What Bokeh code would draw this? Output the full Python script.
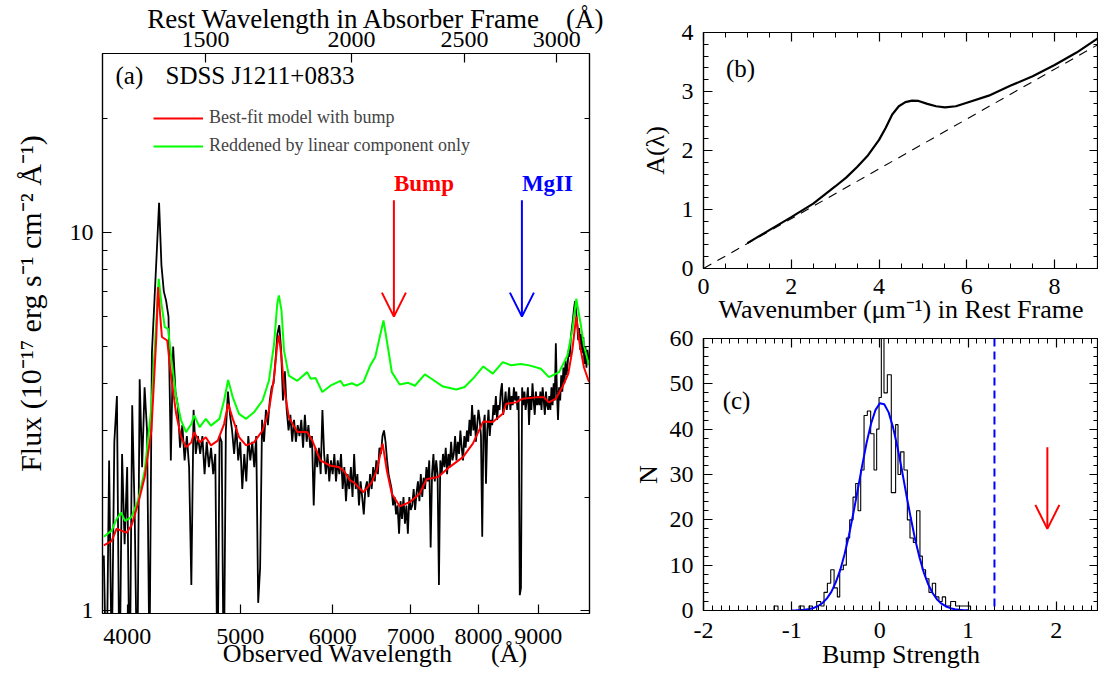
import math
from bokeh.plotting import figure
from bokeh.layouts import row, column
from bokeh.models import (Range1d, LogAxis, LinearAxis, FixedTicker, SingleIntervalTicker,
                          PrintfTickFormatter, Label, Arrow, OpenHead, Legend, LegendItem,
                          LogScale, Span)
from bokeh.embed import file_html
from bokeh.resources import INLINE

SERIF = "Liberation Serif"
NB = "\u00a0"

# ---------------- panel (a) data ----------------
z_abs = 2.113
bump_rest = 2175.0
mgii_rest = 2800.0
obs_ticks = [4000, 5000, 6000, 7000, 8000, 9000]
rest_ticks = [1500, 2000, 2500, 3000]
flux_ticks = [1, 10]
flux_minor = [2, 3, 4, 5, 6, 7, 8, 9, 20]

wave_obs = list(range(3820, 9961, 20))
flux_obs = [
    1.4, 0.6, 2.5, 0.7, 2.8, 3.7, 0.6, 2.6, 1.5, 2.4,
    0.6, 3.5, 1.8, 0.6, 4.1, 2.4, 3.9, 3.0, 0.7, 4.8,
    6.5, 8.8, 12.0, 8.2, 7.0, 6.6, 6.0, 2.5, 5.0, 3.8,
    3.5, 2.7, 3.1, 2.5, 2.9, 2.4, 1.17, 3.4, 2.6, 2.9,
    2.6, 2.9, 2.3, 2.8, 2.4, 2.7, 2.3, 2.6, 0.6, 2.9,
    2.8, 0.6, 3.0, 3.8, 3.3, 3.0, 2.6, 3.1, 2.5, 2.8,
    2.1, 2.6, 2.2, 2.9, 2.5, 2.8, 2.4, 2.9, 1.05, 1.3,
    3.2, 2.8, 3.4, 3.1, 3.6, 3.9, 4.0, 4.6, 5.4, 5.7,
    4.9, 3.6, 4.3, 3.4, 3.0, 3.3, 2.8, 3.2, 2.8, 3.1,
    2.9, 3.2, 2.7, 3.3, 2.8, 3.1, 2.7, 2.9, 1.9, 2.7,
    2.4, 2.7, 2.3, 3.4, 2.6, 2.3, 2.6, 2.2, 2.5, 2.3,
    2.6, 2.2, 2.5, 2.3, 2.6, 2.1, 2.4, 1.95, 2.3, 2.1,
    2.4, 2.0, 2.6, 2.1, 2.3, 1.9, 2.2, 2.0, 1.8, 2.1,
    2.2, 2.0, 2.3, 2.1, 2.4, 2.2, 2.5, 2.3, 2.7, 2.6,
    2.9, 3.0, 2.8, 2.5, 2.3, 2.2, 2.1, 1.9, 2.0, 1.8,
    1.9, 1.6, 1.95, 1.75, 2.0, 1.7, 1.9, 1.6, 2.0, 1.85,
    1.9, 2.1, 1.85, 2.05, 2.2, 1.95, 2.3, 2.0, 2.25, 2.1,
    2.4, 2.2, 2.5, 1.47, 2.3, 2.6, 2.2, 2.5, 2.3, 1.17,
    2.5, 2.3, 2.6, 2.4, 2.7, 2.3, 2.6, 2.4, 2.8, 2.5,
    2.6, 2.9, 2.5, 2.8, 2.6, 3.0, 2.7, 2.5, 2.9, 2.7,
    3.0, 2.8, 3.2, 2.9, 3.5, 3.0, 3.3, 2.8, 3.1, 3.4,
    3.2, 2.9, 1.57, 3.1, 3.3, 2.17, 3.0, 3.4, 2.9, 3.2,
    3.1, 3.5, 3.3, 3.7, 3.2, 3.5, 3.4, 3.8, 4.0, 3.3,
    3.5, 3.8, 3.4, 3.6, 3.9, 3.4, 3.7, 3.5, 3.9, 3.6,
    3.8, 3.4, 3.7, 1.1, 1.15, 3.9, 3.5, 3.8, 3.4, 3.6,
    3.9, 3.1, 3.7, 3.4, 4.0, 3.6, 3.3, 3.8, 3.5, 3.7,
    3.5, 3.8, 3.4, 3.9, 3.6, 3.3, 3.8, 3.5, 3.4, 3.7,
    3.4, 3.9, 3.5, 4.0, 3.6, 5.1, 3.8, 3.2, 3.9, 3.6,
    4.2, 3.8, 4.4, 4.0, 4.6, 4.2, 4.5, 4.9, 4.7, 5.3,
    5.6, 5.9, 6.3, 6.6, 6.2, 5.8, 5.2, 5.6, 4.9, 5.4,
    4.8, 5.3, 4.5, 5.0, 4.4, 4.9, 4.6, 4.7,
]

model_wave = [3820, 3879, 3918, 3952, 3995, 4034, 4087, 4141, 4196, 4237,
              4251, 4266, 4284, 4329, 4363, 4406, 4449, 4493, 4540, 4566,
              4615, 4672, 4719, 4783, 4843, 4882, 4927, 4988, 5058, 5137,
              5225, 5291, 5345, 5379, 5396, 5424, 5451, 5503, 5596, 5706,
              5764, 5856, 5974, 6073, 6132, 6211, 6254, 6376, 6483, 6545,
              6622, 6677, 6743, 6849, 6989, 7124, 7221, 7387, 7555, 7759,
              7912, 8077, 8230, 8393, 8449, 8616, 8727, 8962, 9108, 9193,
              9320, 9441, 9552, 9627, 9703, 9768, 9851, 9950]
model_flux = [1.49, 1.53, 1.65, 1.63, 1.61, 1.68, 1.92, 2.26, 3.0, 5.3,
              7.18, 6.23, 5.3, 5.19, 4.15, 3.32, 2.88, 2.71, 2.79, 2.97,
              2.79, 2.88, 2.74, 2.82, 3.12, 3.53, 3.22, 2.88, 2.74, 2.79,
              3.0, 3.39, 4.15, 5.08, 5.35, 4.69, 3.91, 3.25, 2.97, 2.97,
              2.82, 2.50, 2.42, 2.40, 2.35, 2.21, 2.19, 2.06, 2.19, 2.35,
              2.77, 2.35, 2.04, 1.89, 1.94, 2.04, 2.23, 2.26, 2.40, 2.55,
              2.77, 3.17, 3.16, 3.32, 3.53, 3.56, 3.64, 3.67, 3.67, 3.56,
              3.64, 3.91, 4.24, 4.88, 6.01, 5.09, 4.41, 4.03]

linear_wave = [3820, 3879, 3918, 3952, 3983, 4034, 4087, 4141, 4196, 4237,
               4257, 4280, 4308, 4337, 4363, 4406, 4449, 4493, 4540, 4566,
               4615, 4672, 4719, 4799, 4843, 4882, 4927, 4988, 5058, 5137,
               5225, 5291, 5345, 5379, 5396, 5424, 5451, 5503, 5596, 5706,
               5745, 5801, 5879, 5974, 6093, 6132, 6234, 6295, 6376, 6462,
               6526, 6633, 6677, 6743, 6849, 6965, 7057, 7197, 7292, 7460,
               7658, 7785, 7912, 8077, 8230, 8393, 8532, 8701, 8844, 9049,
               9193, 9380, 9534, 9627, 9703, 9788, 9851, 9950]
linear_flux = [1.57, 1.63, 1.75, 1.82, 1.73, 1.77, 1.96, 2.35, 3.46, 5.86,
               7.55, 6.49, 5.63, 5.57, 4.69, 3.67, 3.19, 2.97, 3.12, 3.29,
               3.06, 3.22, 3.09, 3.22, 3.60, 4.08, 3.67, 3.32, 3.22, 3.35,
               3.60, 4.06, 5.08, 6.49, 6.83, 6.23, 4.88, 4.19, 4.06, 4.28,
               4.11, 4.13, 3.79, 3.94, 4.06, 3.94, 4.00, 3.94, 4.03, 4.46,
               4.69, 5.86, 5.19, 4.28, 3.97, 4.01, 3.94, 4.22, 4.11, 3.92,
               3.85, 3.91, 4.11, 4.43, 4.24, 4.55, 4.46, 4.50, 4.46, 4.37,
               4.15, 4.28, 4.73, 5.51, 6.69, 5.74, 5.03, 4.46]

# ---------------- panel (b) data ----------------
wavenumber = [1.0, 1.5, 2.0, 2.5, 3.0, 3.25, 3.5, 3.75, 4.0, 4.15, 4.3, 4.45, 4.6,
              4.75, 4.9, 5.1, 5.3, 5.5, 5.75, 6.0, 6.5, 7.0, 7.5, 8.0, 8.5, 9.0]
a_lambda = [0.43, 0.65, 0.87, 1.10, 1.39, 1.54, 1.72, 1.92, 2.18, 2.38, 2.61, 2.75, 2.82,
            2.845, 2.84, 2.79, 2.75, 2.73, 2.75, 2.81, 2.93, 3.10, 3.26, 3.45, 3.66, 3.91]
lin_x = [0.0, 9.0]
lin_a = [0.0, 3.80]

# ---------------- panel (c) data ----------------
bin_edges = [-1.20, -1.155, -0.916, -0.859, -0.803, -0.765, -0.716, -0.670, -0.633, -0.595,
             -0.557, -0.519, -0.482, -0.455, -0.414, -0.380, -0.342, -0.304, -0.274, -0.247,
             -0.217, -0.179, -0.142, -0.104, -0.066, -0.036, -0.009, 0.017, 0.047, 0.085,
             0.130, 0.179, 0.206, 0.236, 0.274, 0.312, 0.342, 0.380, 0.417, 0.455,
             0.482, 0.519, 0.557, 0.595, 0.633, 0.670, 0.708, 0.746, 0.803, 0.859,
             0.916, 0.972, 1.029]
bin_counts = [1, 0, 1, 0, 1, 0, 2, 1, 4, 6,
              9, 5, 3, 9, 10, 16, 20, 25, 28, 22,
              31, 43, 44, 39, 31, 40, 47, 62, 48, 52,
              26, 41, 30, 35, 31, 20, 16, 15, 22, 12,
              9, 7, 4, 6, 3, 2, 3, 1, 2, 1,
              1, 1]
gauss_x = [-1.00, -0.95, -0.90, -0.85, -0.80, -0.75, -0.70, -0.65, -0.60, -0.55,
           -0.50, -0.45, -0.40, -0.35, -0.30, -0.25, -0.20, -0.15, -0.10, -0.05,
           0.00, 0.05, 0.10, 0.15, 0.20, 0.25, 0.30, 0.35, 0.40, 0.45,
           0.50, 0.55, 0.60, 0.65, 0.70, 0.75, 0.80, 0.85, 0.90, 0.95, 1.00]
gauss_n = [0.02, 0.04, 0.09, 0.17, 0.32, 0.57, 0.99, 1.65, 2.67, 4.1,
           6.2, 8.9, 12.4, 16.6, 21.5, 26.7, 32.0, 37.0, 41.2, 44.2,
           45.7, 45.5, 43.7, 40.4, 36.0, 31.0, 25.6, 20.5, 15.7, 11.7,
           8.3, 5.7, 3.8, 2.4, 1.5, 0.89, 0.51, 0.28, 0.15, 0.08, 0.04]
threshold_strength = 1.3
object_strength = 1.9
object_arrow_n = [36.0, 18.0]


def style_axis(ax, major_in=9, minor_in=5, size="24px", standoff=10, hide=False,
               title=None, title_size="26px", title_standoff=0):
    ax.major_tick_in = major_in
    ax.major_tick_out = 0
    ax.minor_tick_in = minor_in
    ax.minor_tick_out = 0
    ax.axis_line_color = "black"
    ax.axis_line_width = 1.2
    ax.major_tick_line_color = "black"
    ax.major_tick_line_width = 1.2
    ax.minor_tick_line_color = "black"
    ax.minor_tick_line_width = 1.0
    ax.major_label_text_font = SERIF
    ax.major_label_text_color = "black"
    if hide:
        ax.major_label_text_font_size = "1px"
        ax.major_label_text_alpha = 0
        ax.major_label_standoff = 0
    else:
        ax.major_label_text_font_size = size
        ax.major_label_standoff = standoff
    if title:
        ax.axis_label = title
        ax.axis_label_text_font = SERIF
        ax.axis_label_text_font_size = title_size
        ax.axis_label_text_font_style = "normal"
        ax.axis_label_text_color = "black"
        ax.axis_label_standoff = title_standoff
    else:
        ax.axis_label = None


def txt(p, x, y, s, size="26px", align="center", color="black", style="normal",
        xu="screen", yu="screen"):
    p.add_layout(Label(x=x, y=y, x_units=xu, y_units=yu, text=s, text_font=SERIF,
                       text_font_size=size, text_color=color, text_align=align,
                       text_baseline="middle", text_font_style=style))


def base(p):
    p.xgrid.visible = False
    p.ygrid.visible = False
    p.outline_line_color = "black"
    p.outline_line_width = 1.2
    p.background_fill_color = "white"
    p.border_fill_color = "white"


INT_FMT = PrintfTickFormatter(format="%d")

# ================= panel (a) =================
pa = figure(width=610, height=673, x_axis_type="log", y_axis_type="log",
            x_range=Range1d(3810, 9960), y_range=Range1d(0.984, 29.8),
            output_backend="svg", toolbar_location=None,
            min_border_left=102, min_border_right=21, min_border_top=53, min_border_bottom=60)
base(pa)
pa.extra_x_ranges = {"rest": Range1d(3810 / (1 + z_abs), 9960 / (1 + z_abs))}
pa.extra_x_scales = {"rest": LogScale()}

bx = pa.xaxis[0]
bx.ticker = FixedTicker(ticks=obs_ticks)
bx.formatter = INT_FMT
style_axis(bx, standoff=15, title=NB * 9 + "Observed Wavelength" + NB * 6 + "(Å)",
           title_standoff=-8)
ly = pa.yaxis[0]
ly.ticker = FixedTicker(ticks=flux_ticks, minor_ticks=flux_minor)
ly.formatter = INT_FMT
style_axis(ly, standoff=9, title=NB * 8 + "Flux (10⁻¹⁷ erg s⁻¹ cm⁻² Å⁻¹)",
           title_size="30px", title_standoff=20)
top = LogAxis(x_range_name="rest", ticker=FixedTicker(ticks=rest_ticks), formatter=INT_FMT)
style_axis(top, standoff=7, title=NB * 9 + "Rest Wavelength in Absorber Frame" + NB * 4 + "(Å)",
           title_size="27px", title_standoff=-5)
pa.add_layout(top, "above")
ry = LogAxis(ticker=FixedTicker(ticks=flux_ticks, minor_ticks=flux_minor))
style_axis(ry, hide=True)
pa.add_layout(ry, "right")

pa.line(wave_obs, flux_obs, line_color="black", line_width=1.8)
r_green = pa.line(linear_wave, linear_flux, line_color="#00ff00", line_width=2)
r_red = pa.line(model_wave, model_flux, line_color="#ff0000", line_width=2)

legend = Legend(items=[LegendItem(label="Best-fit model with bump", renderers=[r_red]),
                       LegendItem(label="Reddened by linear component only", renderers=[r_green])],
                location=(51, 457), glyph_width=50, glyph_height=20, label_height=20,
                label_standoff=6, spacing=7, padding=0, margin=0,
                label_text_font=SERIF, label_text_font_size="18px",
                background_fill_alpha=0, border_line_alpha=0)
pa.add_layout(legend)

bump_obs = bump_rest * (1 + z_abs)
mgii_obs = mgii_rest * (1 + z_abs)
pa.add_layout(Arrow(end=OpenHead(size=24, line_color="#ff0000", line_width=2),
                    x_start=bump_obs, y_start=12.2, x_end=bump_obs, y_end=6.0,
                    line_color="#ff0000", line_width=2))
pa.add_layout(Arrow(end=OpenHead(size=24, line_color="#0000ff", line_width=2),
                    x_start=mgii_obs, y_start=12.2, x_end=mgii_obs, y_end=6.0,
                    line_color="#0000ff", line_width=2))
txt(pa, bump_obs, 430, "Bump", size="23px", align="left", color="#ff0000", style="bold", xu="data")
txt(pa, mgii_obs, 430, "MgII", size="23px", align="left", color="#0000ff", style="bold", xu="data")
txt(pa, 13, 538, "(a)", size="25px", align="left")
txt(pa, 63, 538, "SDSS J1211+0833", size="25px", align="left")

# ================= panel (b) =================
pb = figure(width=488, height=326, x_range=Range1d(0, 9), y_range=Range1d(0, 4),
            output_backend="svg", toolbar_location=None,
            min_border_left=93, min_border_right=0, min_border_top=32, min_border_bottom=56)
base(pb)
pb.xaxis[0].ticker = SingleIntervalTicker(interval=2, num_minor_ticks=4)
pb.xaxis[0].formatter = INT_FMT
pb.yaxis[0].ticker = SingleIntervalTicker(interval=1, num_minor_ticks=5)
pb.yaxis[0].formatter = INT_FMT
style_axis(pb.xaxis[0], standoff=10, title="Wavenumber (μm⁻¹) in Rest Frame", title_standoff=-2)
style_axis(pb.yaxis[0], standoff=10, title="A(λ)", title_standoff=9)
tb = LinearAxis(ticker=SingleIntervalTicker(interval=2, num_minor_ticks=4))
style_axis(tb, hide=True)
pb.add_layout(tb, "above")
rb = LinearAxis(ticker=SingleIntervalTicker(interval=1, num_minor_ticks=5))
style_axis(rb, hide=True)
pb.add_layout(rb, "right")

pb.line(lin_x, lin_a, line_color="black", line_width=1.1, line_dash="9 7")
pb.line(wavenumber, a_lambda, line_color="black", line_width=2.2)
txt(pb, 37, 200, "(b)", size="25px")

# ================= panel (c) =================
pc = figure(width=488, height=347, x_range=Range1d(-2, 2.48), y_range=Range1d(0, 60),
            output_backend="svg", toolbar_location=None,
            min_border_left=93, min_border_right=0, min_border_top=12, min_border_bottom=63)
base(pc)
pc.xaxis[0].ticker = SingleIntervalTicker(interval=1, num_minor_ticks=10)
pc.xaxis[0].formatter = INT_FMT
pc.yaxis[0].ticker = SingleIntervalTicker(interval=10, num_minor_ticks=5)
pc.yaxis[0].formatter = INT_FMT
style_axis(pc.xaxis[0], standoff=12, title="Bump Strength", title_standoff=-1)
style_axis(pc.yaxis[0], standoff=10, title="N", title_standoff=4)
tc = LinearAxis(ticker=SingleIntervalTicker(interval=1, num_minor_ticks=10))
style_axis(tc, hide=True)
pc.add_layout(tc, "above")
rc = LinearAxis(ticker=SingleIntervalTicker(interval=10, num_minor_ticks=5))
style_axis(rc, hide=True)
pc.add_layout(rc, "right")

step_x = [bin_edges[0]] + bin_edges
step_y = [0] + bin_counts + [0]
pc.step(step_x, step_y, mode="after", line_color="black", line_width=1.1)
pc.line(gauss_x, gauss_n, line_color="#0000ff", line_width=2)
pc.add_layout(Span(location=threshold_strength, dimension="height", line_color="#0000ff",
                   line_width=2, line_dash="8 5"))
pc.add_layout(Arrow(end=OpenHead(size=24, line_color="#ff0000", line_width=2),
                    x_start=object_strength, y_start=object_arrow_n[0],
                    x_end=object_strength, y_end=object_arrow_n[1],
                    line_color="#ff0000", line_width=2))
txt(pc, 33, 210, "(c)", size="25px")

layout = row(pa, column(pb, pc))
open("out.html", "w").write(file_html(layout, INLINE))
